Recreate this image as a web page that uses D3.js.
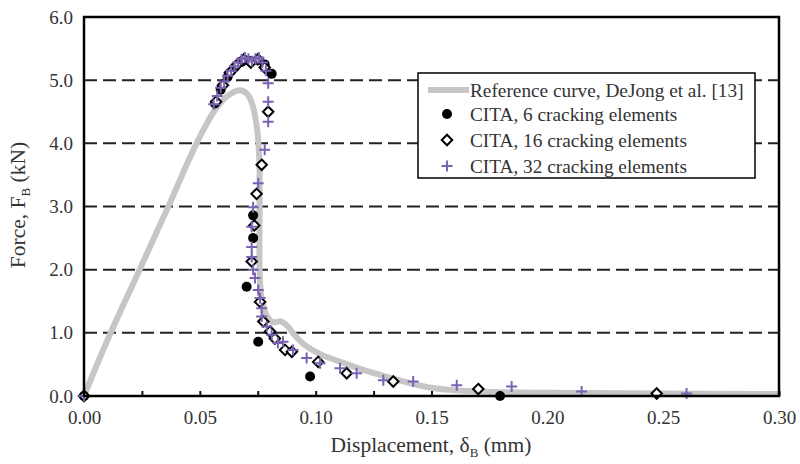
<!DOCTYPE html>
<html>
<head>
<meta charset="utf-8">
<script src="https://cdn.jsdelivr.net/npm/d3@7"></script>
<style>
  body { margin: 0; background: #fff; }
  text { font-family: "Liberation Serif", "DejaVu Serif", serif; fill: #333; }
</style>
</head>
<body>
<div id="chart"></div>
<script>
// reference curve (DeJong et al.)
var refX = [0, 0.0115, 0.024, 0.0364, 0.0486, 0.0566, 0.062, 0.0673, 0.0705, 0.0728, 0.0748, 0.0757, 0.0758, 0.0758, 0.0765, 0.0785, 0.0815, 0.085, 0.088, 0.0905, 0.0955, 0.102, 0.11, 0.12, 0.13, 0.14, 0.15, 0.16, 0.18, 0.2, 0.25, 0.3];
var refY = [0, 1.0, 2.0, 3.0, 4.0, 4.53, 4.75, 4.84, 4.78, 4.6, 4.2, 3.7, 3.0, 2.0, 1.6, 1.3, 1.17, 1.18, 1.1, 0.98, 0.8, 0.66, 0.55, 0.42, 0.31, 0.21, 0.13, 0.09, 0.06, 0.05, 0.04, 0.03];

// CITA, 6 cracking elements
var c6X = [0, 0.0565, 0.059, 0.062, 0.065, 0.068, 0.0715, 0.075, 0.078, 0.081, 0.073, 0.073, 0.0702, 0.0752, 0.0976, 0.1796];
var c6Y = [0, 4.63, 4.85, 5.05, 5.2, 5.29, 5.3, 5.32, 5.25, 5.1, 2.86, 2.5, 1.73, 0.86, 0.31, 0.0];

// CITA, 16 cracking elements
var c16X = [0, 0.057, 0.06, 0.063, 0.066, 0.069, 0.072, 0.075, 0.078, 0.0795, 0.0767, 0.0745, 0.0735, 0.0724, 0.076, 0.0774, 0.0803, 0.0824, 0.0868, 0.0897, 0.1011, 0.1134, 0.1335, 0.1702, 0.2472];
var c16Y = [0, 4.66, 4.92, 5.12, 5.24, 5.33, 5.28, 5.33, 5.2, 4.5, 3.66, 3.2, 2.7, 2.13, 1.49, 1.18, 1.02, 0.91, 0.73, 0.7, 0.54, 0.36, 0.23, 0.11, 0.04];

// CITA, 32 cracking elements
var c32X = [0, 0.056, 0.0575, 0.059, 0.0605, 0.062, 0.0635, 0.065, 0.0665, 0.068, 0.0695, 0.071, 0.0725, 0.074, 0.0755, 0.077, 0.0785, 0.0795, 0.0795, 0.0795, 0.078, 0.0752, 0.073, 0.0724, 0.0724, 0.0724, 0.073, 0.0738, 0.0752, 0.076, 0.0767, 0.0767, 0.0789, 0.081, 0.0837, 0.0859, 0.0902, 0.0961, 0.1019, 0.1105, 0.1177, 0.1292, 0.1421, 0.1609, 0.1846, 0.2148, 0.2601];
var c32Y = [0, 4.62, 4.75, 4.88, 4.98, 5.07, 5.15, 5.22, 5.28, 5.33, 5.36, 5.34, 5.3, 5.34, 5.36, 5.28, 5.15, 4.95, 4.66, 4.34, 3.9, 3.37, 2.99, 2.68, 2.36, 2.2, 2.0, 1.87, 1.68, 1.55, 1.39, 1.26, 1.1, 0.97, 0.84, 0.86, 0.73, 0.6, 0.52, 0.44, 0.36, 0.25, 0.23, 0.17, 0.15, 0.07, 0.04];

var xTicks = [0, 0.05, 0.10, 0.15, 0.20, 0.25, 0.30];
var yTicks = [0, 1, 2, 3, 4, 5, 6];
var legendLabels = ["Reference curve, DeJong et al. [13]", "CITA, 6 cracking elements", "CITA, 16 cracking elements", "CITA, 32 cracking elements"];

var W = 800, H = 464;
var purple = "#7a63b3";
var svg = d3.select('#chart').append('svg').attr('width', W).attr('height', H);

var x = d3.scaleLinear().domain([0, 0.30]).range([84, 779]);
var y = d3.scaleLinear().domain([0, 6]).range([396, 17]);

// dashed grid
svg.selectAll('line.grid').data(yTicks.filter(function (d) { return d > 0 && d < 6; })).join('line')
  .attr('class', 'grid')
  .attr('x1', x(0)).attr('x2', x(0.30))
  .attr('y1', d => y(d)).attr('y2', d => y(d))
  .style('stroke', '#222').style('stroke-width', 2).style('stroke-dasharray', '13,6');

// minor ticks on x axis (inside)
svg.append('g').attr('transform', 'translate(0,' + y(0) + ')')
  .call(d3.axisBottom(x).tickValues(d3.range(0, 0.301, 0.025)).tickSize(-5).tickFormat(''))
  .call(g => g.select('.domain').remove())
  .selectAll('line').style('stroke', '#111').style('stroke-width', 2);

// tick labels
svg.append('g').attr('transform', 'translate(0,' + (y(0) + 11) + ')')
  .call(d3.axisBottom(x).tickValues(xTicks).tickSize(0).tickFormat(d3.format('.2f')))
  .call(g => g.select('.domain').remove())
  .selectAll('text').style('font-size', '19px').style('font-family', '"Liberation Serif", serif').style('fill', '#333');

svg.append('g').attr('transform', 'translate(' + (x(0) - 8) + ',0)')
  .call(d3.axisLeft(y).tickValues(yTicks).tickSize(0).tickFormat(d3.format('.1f')))
  .call(g => g.select('.domain').remove())
  .selectAll('text').style('font-size', '19px').style('font-family', '"Liberation Serif", serif').style('fill', '#333');

// reference curve
var line = d3.line().x(d => x(d[0])).y(d => y(d[1])).curve(d3.curveCatmullRom.alpha(0.5));
svg.append('path').datum(d3.zip(refX, refY))
  .attr('d', line)
  .style('fill', 'none').style('stroke', '#c6c6c6').style('stroke-width', 6).style('stroke-linejoin', 'round');

// markers
var diamond = d3.symbol().type(d3.symbolDiamond2).size(70);
var plus = function () { var s = 5.5; return `M${-s},0H${s}M0,${-s}V${s}`; };

svg.selectAll('circle.c6').data(d3.zip(c6X, c6Y)).join('circle')
  .attr('class', 'c6')
  .attr('cx', d => x(d[0])).attr('cy', d => y(d[1])).attr('r', 5)
  .style('fill', '#000');

svg.selectAll('path.c16').data(d3.zip(c16X, c16Y)).join('path')
  .attr('class', 'c16')
  .attr('transform', d => `translate(${x(d[0])},${y(d[1])})`)
  .attr('d', diamond)
  .style('fill', '#fff').style('stroke', '#000').style('stroke-width', 2);

svg.selectAll('path.c32').data(d3.zip(c32X, c32Y)).join('path')
  .attr('class', 'c32')
  .attr('transform', d => `translate(${x(d[0])},${y(d[1])})`)
  .attr('d', plus)
  .style('fill', 'none').style('stroke', purple).style('stroke-width', 2);

// frame
svg.append('rect')
  .attr('x', x(0)).attr('y', y(6))
  .attr('width', x(0.30) - x(0)).attr('height', y(0) - y(6))
  .style('fill', 'none').style('stroke', '#000').style('stroke-width', 2.5);

// axis titles
var xt = svg.append('text').attr('x', 431).attr('y', 452).attr('text-anchor', 'middle').style('font-size', '21.5px');
xt.append('tspan').text('Displacement, δ');
xt.append('tspan').attr('dy', 5).style('font-size', '13px').text('B');
xt.append('tspan').attr('dy', -5).text(' (mm)');

var yt = svg.append('text').attr('transform', 'translate(25,205) rotate(-90)').attr('text-anchor', 'middle').style('font-size', '21.5px');
yt.append('tspan').text('Force, F');
yt.append('tspan').attr('dy', 5).style('font-size', '13px').text('B');
yt.append('tspan').attr('dy', -5).text(' (kN)');

// legend
var lg = svg.append('g');
lg.append('rect').attr('x', 418).attr('y', 73).attr('width', 337).attr('height', 105)
  .style('fill', '#fff').style('stroke', '#000').style('stroke-width', 1.5);
var rows = [90, 114, 140, 166];
lg.selectAll('text').data(legendLabels).join('text')
  .attr('x', 470).attr('y', (d, i) => rows[i]).attr('dy', '0.35em')
  .style('font-size', '19.3px').text(d => d);
lg.append('line').attr('x1', 428).attr('x2', 469).attr('y1', rows[0]).attr('y2', rows[0])
  .style('stroke', '#c6c6c6').style('stroke-width', 6);
lg.append('circle').attr('cx', 447).attr('cy', rows[1]).attr('r', 5).style('fill', '#000');
lg.append('path').attr('transform', `translate(447,${rows[2]})`).attr('d', diamond)
  .style('fill', '#fff').style('stroke', '#000').style('stroke-width', 2);
lg.append('path').attr('transform', `translate(447,${rows[3]})`).attr('d', plus)
  .style('fill', 'none').style('stroke', purple).style('stroke-width', 2);
</script>
</body>
</html>
